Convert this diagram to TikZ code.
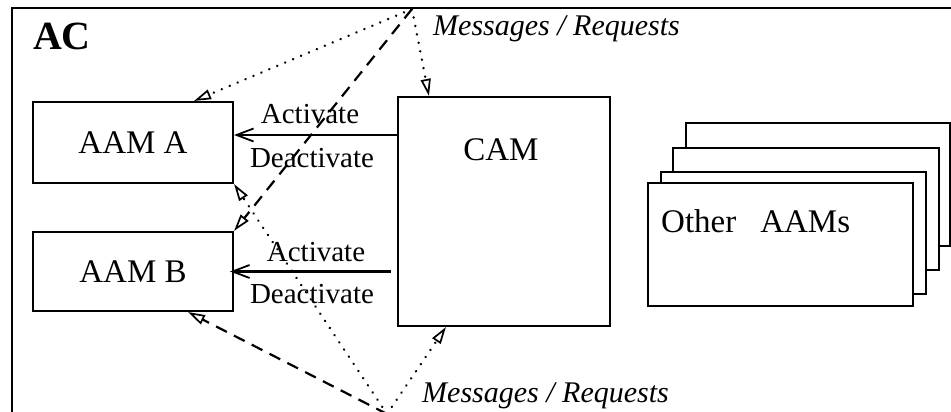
\documentclass[tikz,border=0pt]{standalone}
\usepackage{fontspec}
\setmainfont{Liberation Serif}
\usetikzlibrary{arrows.meta}
\begin{document}
\begin{tikzpicture}[x=1pt,y=-1pt,
  box/.style={draw, line width=2.1pt, fill=white, inner sep=0pt},
  modtext/.style={font=\fontsize{33}{36}\selectfont},
  ctl/.style={line width=2.1pt, -{Straight Barb[length=17pt,width=13pt,line width=1.8pt]}},
  lbl/.style={font=\fontsize{29}{31}\selectfont, inner sep=0pt, anchor=base},
  msghead/.style={-{Triangle[open,length=17pt,width=10pt,line width=1.7pt]}},
  msgdot/.style={msghead, line width=2.6pt, line cap=round, dash pattern=on 0.1pt off 8.5pt},
  msgdash/.style={msghead, line width=2.2pt, dash pattern=on 12pt off 8pt},
  msgtxt/.style={font=\fontsize{30}{32}\selectfont\itshape, inner sep=0pt, anchor=base west}]
\useasboundingbox (0,0) rectangle (951,412);
\clip (0,0) rectangle (951,412);

% enclosing AC frame
\draw[line width=2.1pt] (12,8) rectangle (980,440);
\node[font=\fontsize{40}{44}\selectfont\bfseries, inner sep=0pt] (ac) at (62,36) {AC};

% application modules and the control module
\node[box, modtext, minimum width=200pt, minimum height=81pt] (aama) at (133,142.5) {AAM A};
\node[box, modtext, minimum width=200pt, minimum height=79pt] (aamb) at (133,271.5) {AAM B};
\node[box, minimum width=212pt, minimum height=229pt] (cam) at (504,211.5) {};
\node[modtext, inner sep=0pt] (camtext) at ([xshift=-3pt,yshift=-54pt]cam.north) {CAM};

% stack of further modules, back to front
\node[box, minimum width=264pt, minimum height=123pt] (oth4) at (818,184.5) {};
\node[box, minimum width=266pt, minimum height=122pt] (oth3) at (806,209) {};
\node[box, minimum width=265pt, minimum height=122pt] (oth2) at (793.5,233) {};
\node[box, minimum width=265pt, minimum height=123pt] (oth1) at (780.5,244.5) {};
\node[modtext, inner sep=0pt, anchor=base west] (othtext) at (661,232) {Other\hspace{24pt}AAMs};

% activation control
\coordinate (ea) at ([yshift=7.5pt]aama.east);
\path (cam.west |- ea) coordinate (ca);
\path (cam.west |- aamb.east) coordinate (cb);
\draw[ctl] (ca) -- (ea);
\draw[ctl] ([xshift=-6pt]cb) -- ([xshift=-4pt]aamb.east);
\node[lbl] (acta) at (310,123) {Activate};
\node[lbl] (deacta) at (312,167) {Deactivate};
\node[lbl] (actb) at (316,261) {Activate};
\node[lbl] (deactb) at (312,303) {Deactivate};

% message / request flows
\coordinate (top) at (412,9);
\coordinate (bot) at (387,414);
\draw[msgdot] (top) -- ([xshift=-40pt]aama.north east);
\draw[msgdot] (top) -- ([xshift=32pt]cam.north west);
\draw[msgdash] (top) -- (aamb.north east);
\draw[msgdot] (bot) -- (aama.south east);
\draw[msgdash] (bot) -- ([xshift=-46pt]aamb.south east);
\draw[msgdot] (bot) -- ([xshift=49pt]cam.south west);
\node[msgtxt] (msgtop) at (433,36) {Messages / Requests};
\node[msgtxt] (msgbot) at (422,402) {Messages / Requests};
\end{tikzpicture}
\end{document}
